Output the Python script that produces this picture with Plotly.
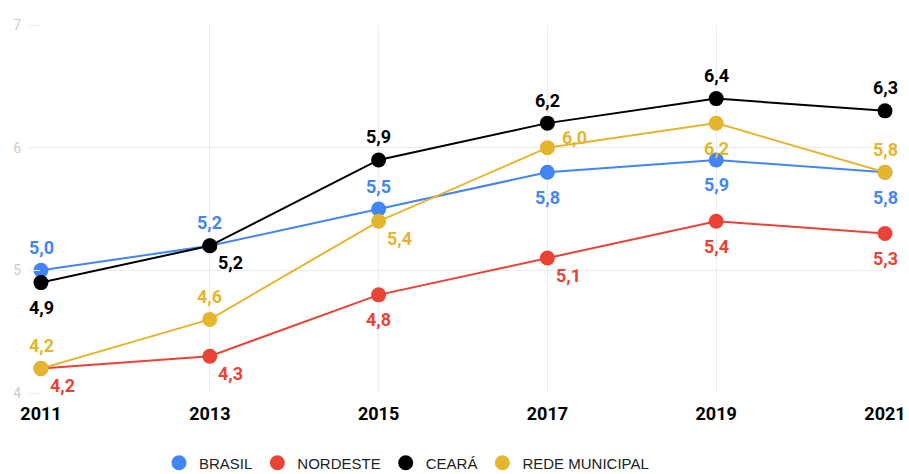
import plotly.graph_objects as go

years = [2011, 2013, 2015, 2017, 2019, 2021]
series_names = ["BRASIL", "NORDESTE", "CEARÁ", "REDE MUNICIPAL"]
brasil = [5.0, 5.2, 5.5, 5.8, 5.9, 5.8]
nordeste = [4.2, 4.3, 4.8, 5.1, 5.4, 5.3]
ceara = [4.9, 5.2, 5.9, 6.2, 6.4, 6.3]
rede = [4.2, 4.6, 5.4, 6.0, 6.2, 5.8]
y_ticks = [4, 5, 6, 7]

colors = ["#4285F4", "#EA4335", "#000000", "#E6B52E"]
values = [brasil, nordeste, ceara, rede]

# label placement per point: t=top, b=bottom, br=bottom right, r=right
placements = [
    ["t", "t", "t", "b", "b", "b"],
    ["br", "br", "b", "br", "b", "b"],
    ["b", "br", "t", "t", "t", "t"],
    ["t", "t", "br", "r", "b", "t"],
]
shifts = {
    "t": (0, 23),
    "b": (0, -25),
    "br": (21, -17),
    "r": (27, 10),
}

fig = go.Figure()
for name, vals, col in zip(series_names, values, colors):
    fig.add_trace(go.Scatter(
        x=years, y=vals, mode="lines+markers", name=name,
        line=dict(color=col, width=2),
        marker=dict(color=col, size=15),
        showlegend=False, cliponaxis=False, hoverinfo="x+y",
    ))
for name, col in zip(series_names, colors):
    fig.add_trace(go.Scatter(
        x=[None], y=[None], mode="markers", name=name,
        marker=dict(color=col, size=15), showlegend=True,
    ))

annotations = []
for vals, col, pl in zip(values, colors, placements):
    for x, v, p in zip(years, vals, pl):
        dx, dy = shifts[p]
        annotations.append(dict(
            x=x, y=v, xref="x", yref="y",
            text=f"{v:.1f}".replace(".", ","),
            showarrow=False, xanchor="center", yanchor="middle",
            xshift=dx, yshift=dy,
            font=dict(family="Roboto", size=18, color=col, weight="bold"),
        ))

fig.update_layout(
    width=909, height=474,
    margin=dict(l=41, r=24, t=25, b=81, autoexpand=False),
    paper_bgcolor="white", plot_bgcolor="white",
    font=dict(family="Roboto"),
    annotations=annotations,
    showlegend=True,
    legend=dict(
        orientation="h", xref="container", yref="container",
        x=159 / 909, xanchor="left", y=(474 - 463) / 474, yanchor="middle",
        font=dict(family="Liberation Sans, Arial", size=15, color="#222222"),
        tracegroupgap=0,
    ),
    xaxis=dict(
        range=[2011, 2021], tickvals=years, ticktext=[str(y) for y in years],
        showgrid=True, gridcolor="#ebebeb", gridwidth=1, zeroline=False,
        showline=False, ticks="", ticklabelstandoff=8, automargin=False,
        tickfont=dict(family="Roboto", size=18, color="#000000", weight="bold"),
    ),
    yaxis=dict(
        range=[4, 7], tickvals=y_ticks, ticktext=[str(v) for v in y_ticks],
        showgrid=True, gridcolor="#ebebeb", gridwidth=1, zeroline=False,
        showline=False, ticks="outside", ticklen=11, tickcolor="#ebebeb",
        ticklabelstandoff=5, automargin=False,
        tickfont=dict(family="Roboto", size=14, color="#cccccc"),
    ),
)

fig.write_html(
    "out.html",
    config={"displayModeBar": False},
    post_script="document.body.style.margin='0';document.body.style.overflow='hidden';",
)
